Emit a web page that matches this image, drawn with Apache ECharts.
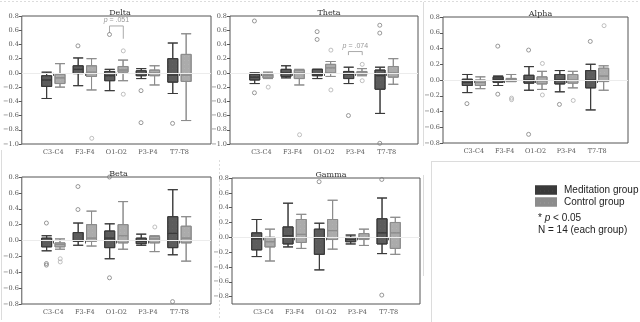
<!DOCTYPE html>
<html>
<head>
<meta charset="utf-8">
<script src="https://cdn.jsdelivr.net/npm/echarts@6/dist/echarts.min.js"></script>
<style>
  html, body { margin: 0; padding: 0; background: #fff; }
  #main { width: 640px; height: 322px; }
</style>
</head>
<body>
<div id="main"></div>
<script>
var regions = ["C3-C4", "F3-F4", "O1-O2", "P3-P4", "T7-T8"];
var bands = ["Delta", "Theta", "Alpha", "Beta", "Gamma"];
var groups = ["Meditation group", "Control group"];

// box rows: [low whisker, Q1, median, Q3, high whisker]
var deltaMed = [[-0.36, -0.19, -0.10, -0.04, 0.01], [-0.18, -0.01, 0.05, 0.10, 0.21], [-0.25, -0.11, -0.04, 0.02, 0.05], [-0.08, -0.04, -0.01, 0.03, 0.06], [-0.29, -0.13, -0.03, 0.20, 0.42]];
var deltaCtl = [[-0.20, -0.15, -0.07, -0.02, 0.13], [-0.24, -0.05, 0.01, 0.10, 0.20], [-0.11, 0.01, 0.04, 0.09, 0.18], [-0.17, -0.04, 0.00, 0.04, 0.10], [-0.67, -0.12, -0.03, 0.26, 0.55]];
var deltaMedOut = [[1, 0.38], [2, 0.54], [3, -0.25], [3, -0.70], [4, -0.71]];
var deltaCtlOut = [[1, -0.92], [2, 0.31], [2, -0.30]];

var thetaMed = [[-0.15, -0.10, -0.06, -0.02, 0.00], [-0.07, -0.05, 0.00, 0.05, 0.10], [-0.08, -0.04, -0.02, 0.05, 0.05], [-0.15, -0.08, -0.02, 0.02, 0.08], [-0.57, -0.23, -0.04, 0.04, 0.08]];
var thetaCtl = [[-0.08, -0.07, -0.04, -0.02, 0.01], [-0.17, -0.08, 0.00, 0.04, 0.05], [-0.05, 0.00, 0.07, 0.12, 0.16], [-0.04, -0.02, 0.00, 0.02, 0.06], [-0.16, -0.06, 0.00, 0.09, 0.20]];
var thetaMedOut = [[0, 0.73], [0, -0.28], [2, 0.58], [2, 0.47], [3, -0.60], [4, 0.67], [4, 0.56], [4, -0.99]];
var thetaCtlOut = [[0, -0.20], [1, -0.87], [2, 0.32], [2, -0.24], [3, 0.12], [3, -0.11]];

var alphaMed = [[-0.16, -0.07, -0.03, 0.01, 0.07], [-0.07, -0.03, 0.01, 0.04, 0.05], [-0.13, -0.04, 0.00, 0.06, 0.17], [-0.15, -0.05, 0.00, 0.07, 0.12], [-0.38, -0.10, 0.00, 0.12, 0.20]];
var alphaCtl = [[-0.11, -0.07, -0.03, 0.00, 0.04], [-0.02, -0.02, 0.01, 0.02, 0.07], [-0.12, -0.05, -0.01, 0.04, 0.11], [-0.10, -0.04, 0.00, 0.07, 0.11], [-0.13, -0.02, 0.05, 0.15, 0.18]];
var alphaMedOut = [[0, -0.30], [1, 0.43], [1, -0.18], [2, 0.38], [2, -0.69], [3, -0.31], [4, 0.49]];
var alphaCtlOut = [[1, -0.23], [1, -0.25], [2, 0.21], [2, -0.19], [3, -0.26], [4, 0.69]];

var betaMed = [[-0.13, -0.08, 0.00, 0.03, 0.06], [-0.06, -0.01, 0.00, 0.10, 0.22], [-0.23, -0.09, 0.03, 0.12, 0.21], [-0.06, -0.04, -0.01, 0.03, 0.08], [-0.18, -0.09, 0.09, 0.30, 0.64]];
var betaCtl = [[-0.11, -0.08, -0.05, -0.03, 0.02], [-0.07, -0.01, 0.03, 0.20, 0.37], [-0.11, -0.03, 0.06, 0.20, 0.49], [-0.14, -0.03, 0.02, 0.05, 0.06], [-0.26, -0.03, 0.03, 0.18, 0.30]];
var betaMedOut = [[0, 0.22], [0, -0.29], [0, -0.31], [1, 0.68], [1, 0.39], [2, 0.80], [2, -0.47], [4, -0.77]];
var betaCtlOut = [[0, -0.23], [0, -0.27], [3, 0.17]];

var gammaMed = [[-0.26, -0.17, -0.02, 0.06, 0.24], [-0.13, -0.09, 0.02, 0.14, 0.46], [-0.44, -0.23, -0.01, 0.11, 0.19], [-0.09, -0.06, -0.03, 0.00, 0.03], [-0.22, -0.09, 0.06, 0.25, 0.53]];
var gammaCtl = [[-0.32, -0.13, -0.06, 0.00, 0.11], [-0.15, -0.07, 0.04, 0.24, 0.31], [-0.16, -0.03, 0.09, 0.24, 0.50], [-0.11, -0.03, -0.02, 0.05, 0.11], [-0.23, -0.15, 0.06, 0.20, 0.27]];
var gammaMedOut = [[2, 0.75], [4, 0.78], [4, -0.78]];
var gammaCtlOut = [];

var yMins = [-1.0, -1.0, -0.8, -0.8, -0.9];
var yTicks = [-0.8, -0.6, -0.4, -0.2, 0.0, 0.2, 0.4, 0.6, 0.8];

var medBoxes = [deltaMed, thetaMed, alphaMed, betaMed, gammaMed];
var ctlBoxes = [deltaCtl, thetaCtl, alphaCtl, betaCtl, gammaCtl];
var medOuts = [deltaMedOut, thetaMedOut, alphaMedOut, betaMedOut, gammaMedOut];
var ctlOuts = [deltaCtlOut, thetaCtlOut, alphaCtlOut, betaCtlOut, gammaCtlOut];

var chart = echarts.init(document.getElementById("main"));

var grids = [
  { left: 19, top: 16, width: 192, height: 128 },
  { left: 230, top: 16, width: 188, height: 128 },
  { left: 443, top: 17, width: 185, height: 126 },
  { left: 16, top: 177, width: 195, height: 127 },
  { left: 232, top: 178, width: 188, height: 126 }
];
var serif = "DejaVu Serif";
var OFF = 6.9; // half distance between the two boxes of a region (px)
var cats = [""].concat(regions).concat([""]);

var medColor = "#5c5c5c", ctlColor = "#ababab";

var option = {
  animation: false,
  backgroundColor: "#fff",
  title: [],
  grid: [],
  xAxis: [],
  yAxis: [],
  series: [],
  legend: {
    data: groups,
    orient: "vertical",
    left: 530,
    top: 179,
    itemWidth: 20,
    itemHeight: 7,
    itemGap: 0,
    icon: "rect",
    textStyle: { fontSize: 10, color: "#222", fontFamily: "Liberation Sans", lineHeight: 12, padding: [0, 0, 0, 3] }
  },
  graphic: []
};

bands.forEach(function (band, k) {
  var g = grids[k];
  option.grid.push(Object.assign({ show: true, borderColor: "#555", borderWidth: 1, backgroundColor: "transparent" }, g));
  option.title.push({
    text: band,
    left: g.left + g.width / 2,
    top: g.top - 12,
    textAlign: "center",
    textStyle: { fontFamily: serif, fontSize: 8, fontWeight: "normal", color: "#333" }
  });
  option.xAxis.push({
    type: "category",
    gridIndex: k,
    data: cats,
    boundaryGap: false,
    axisLine: { show: false },
    axisTick: { show: true, length: 3, lineStyle: { color: "#555" }, interval: function (i, v) { return v !== ""; } },
    axisLabel: { fontFamily: serif, fontSize: 6.5, color: "#555", margin: 5, interval: 0 },
    splitLine: { show: false }
  });
  var yAx = {
    type: "value",
    gridIndex: k,
    min: yMins[k],
    max: 0.8,
    axisLine: { show: false },
    axisTick: { show: true, length: 3, lineStyle: { color: "#555" } },
    axisLabel: {
      fontFamily: serif, fontSize: 6.5, color: "#555", margin: 3,
      formatter: function (v) { return v.toFixed(1).replace("-", "\u2212"); }
    },
    splitLine: { show: false }
  };
  if (k === 4) {
    yAx.axisLabel.customValues = yTicks;
    yAx.axisTick.customValues = yTicks;
  } else {
    yAx.interval = 0.2;
  }
  option.yAxis.push(yAx);

  var boxSets = [medBoxes[k], ctlBoxes[k]];
  var outSets = [medOuts[k], ctlOuts[k]];
  [0, 1].forEach(function (s) {
    var dark = s === 0;
    var ser = {
      name: groups[s],
      type: "boxplot",
      xAxisIndex: k,
      yAxisIndex: k,
      boxWidth: [10, 10],
      encode: { x: 0, y: [1, 2, 3, 4, 5] },
      data: boxSets[s].map(function (b, i) { return [regions[i]].concat(b); }),
      itemStyle: {
        color: dark ? medColor : ctlColor,
        borderColor: dark ? "#3a3a3a" : "#8c8c8c",
        borderWidth: 1,
        decal: {
          symbol: "rect",
          symbolSize: 0.6,
          color: dark ? "rgba(120,120,120,0.8)" : "rgba(200,200,200,0.8)",
          dashArrayX: [1, 3],
          dashArrayY: [1, 3],
          rotation: 0
        }
      },
      emphasis: { disabled: true }
    };
    if (dark) {
      ser.markLine = {
        silent: true,
        symbol: "none",
        label: { show: false },
        lineStyle: { color: "#ececec", type: "solid", width: 1 },
        data: [{ yAxis: 0 }]
      };
    }
    option.series.push(ser);
    option.series.push({
      name: groups[s] + " outliers",
      type: "scatter",
      xAxisIndex: k,
      yAxisIndex: k,
      symbol: "circle",
      symbolSize: 4,
      symbolOffset: [dark ? -OFF : OFF, 0],
      itemStyle: { color: "rgba(255,255,255,0)", borderColor: dark ? "#808080" : "#b0b0b0", borderWidth: 1 },
      data: outSets[s].map(function (p) { return [regions[p[0]], p[1]]; }),
      clip: false,
      z: 3
    });
  });
});

// faint frames of the composed figure
var frame = { stroke: "#dcdcdc", lineWidth: 1 };
option.graphic.push(
  { type: "line", shape: { x1: 0, y1: 1.5, x2: 640, y2: 1.5 }, style: Object.assign({ lineDash: [2, 2] }, frame), silent: true },
  { type: "line", shape: { x1: 423.5, y1: 2, x2: 423.5, y2: 146 }, style: frame, silent: true },
  { type: "line", shape: { x1: 1.5, y1: 150, x2: 1.5, y2: 320 }, style: frame, silent: true },
  { type: "line", shape: { x1: 219.5, y1: 160, x2: 219.5, y2: 320 }, style: Object.assign({ lineDash: [2, 2] }, frame), silent: true },
  { type: "line", shape: { x1: 423.5, y1: 175, x2: 423.5, y2: 276 }, style: frame, silent: true },
  { type: "line", shape: { x1: 431, y1: 161.5, x2: 640, y2: 161.5 }, style: frame, silent: true },
  { type: "line", shape: { x1: 431.5, y1: 161, x2: 431.5, y2: 322 }, style: frame, silent: true },
  {
    type: "text", left: 538, top: 212, silent: true,
    style: {
      text: "* {i|p} < 0.05\nN = 14 (each group)",
      fontSize: 10, lineHeight: 12, fill: "#222", fontFamily: "Liberation Sans",
      rich: { i: { fontStyle: "italic", fontSize: 10, fontFamily: "Liberation Sans", fill: "#222" } }
    }
  }
);

chart.setOption(option);

// significance brackets
function bracket(k, region, leftLow, rightLow, top, label) {
  var c = chart.convertToPixel({ xAxisIndex: k, yAxisIndex: k }, [region, top]);
  var yl = chart.convertToPixel({ xAxisIndex: k, yAxisIndex: k }, [region, leftLow])[1];
  var yr = chart.convertToPixel({ xAxisIndex: k, yAxisIndex: k }, [region, rightLow])[1];
  var x1 = c[0] - OFF, x2 = c[0] + OFF, yt = c[1];
  return [
    { type: "polyline", silent: true, shape: { points: [[x1, yl], [x1, yt], [x2, yt], [x2, yr]] }, style: { stroke: "#aaa", lineWidth: 1, fill: null } },
    {
      type: "text", silent: true, x: c[0], y: yt - 2,
      style: {
        text: "{i|p} = " + label, fontSize: 7, fill: "#999", fontFamily: "Liberation Sans",
        align: "center", verticalAlign: "bottom",
        rich: { i: { fontStyle: "italic", fontSize: 7, fill: "#999", fontFamily: "Liberation Sans" } }
      }
    }
  ];
}
var extra = option.graphic.concat(bracket(0, "O1-O2", 0.56, 0.48, 0.66, ".051"), bracket(1, "P3-P4", 0.25, 0.25, 0.30, ".074"));
chart.setOption({ graphic: extra });
</script>
</body>
</html>
